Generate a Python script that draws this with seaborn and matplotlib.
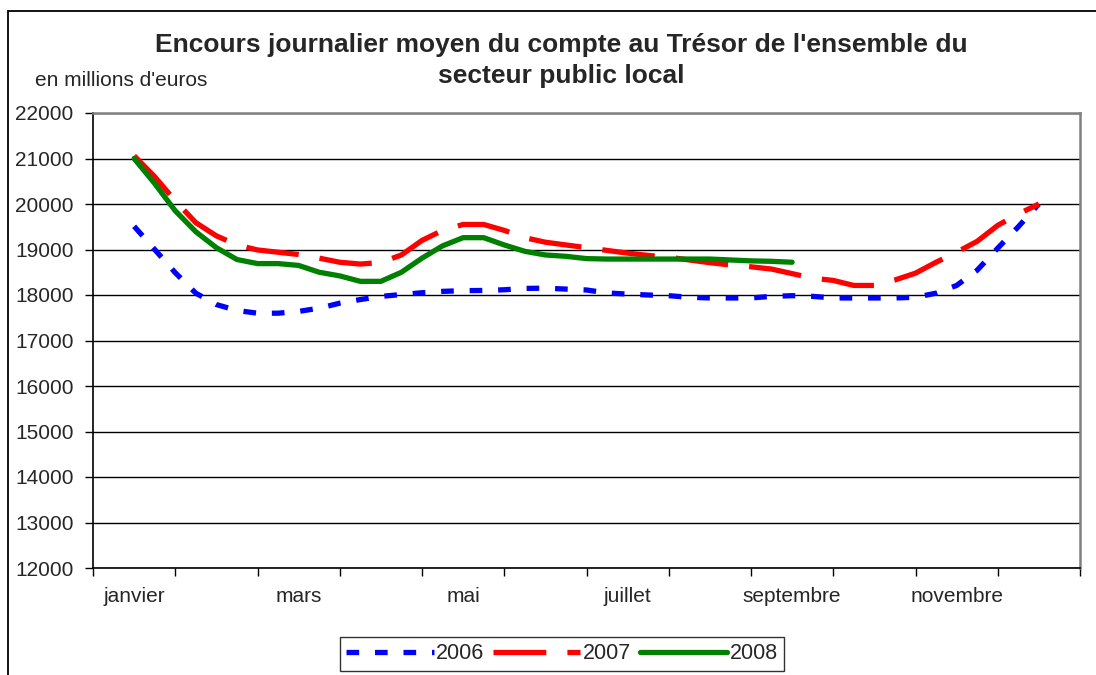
import numpy as np
import pandas as pd
import matplotlib
matplotlib.use("Agg")
import matplotlib.pyplot as plt
from matplotlib.patches import Rectangle
import seaborn as sns

# ---- data (weekly points, 4 per month, starting mid-January) ----
y2006 = [19510, 19000, 18490, 18040, 17790, 17660, 17600, 17600, 17640, 17710, 17820,
         17900, 17970, 18010, 18050, 18080, 18095, 18100, 18115, 18145, 18150, 18130, 18110,
         18045, 18020, 18000, 17985, 17950, 17935, 17935, 17935, 17970, 17985, 17970, 17935,
         17935, 17935, 17935, 17950, 18040, 18210, 18545, 19030, 19500, 20000]
y2007 = [21060, 20600, 20070, 19590, 19300, 19100, 18990, 18940, 18890, 18810, 18720,
         18680, 18715, 18880, 19200, 19420, 19550, 19550, 19420, 19260, 19160, 19100, 19040,
         18980, 18920, 18870, 18830, 18770, 18710, 18660, 18620, 18570, 18470, 18370, 18320,
         18210, 18210, 18330, 18480, 18720, 18940, 19180, 19530, 19780, 20000]
y2008 = [21000, 20450, 19850, 19390, 19040, 18780, 18690, 18690, 18650, 18500, 18420,
         18300, 18300, 18500, 18810, 19080, 19260, 19260, 19100, 18960, 18880, 18850, 18800,
         18790, 18790, 18790, 18790, 18790, 18790, 18770, 18750, 18740, 18720]
years = ["2006", "2007", "2008"]
series = [y2006, y2007, y2008]
month_labels = ["janvier", "mars", "mai", "juillet", "septembre", "novembre"]
y_ticks = list(range(12000, 22001, 1000))
title_lines = ["Encours journalier moyen du compte au Trésor de l'ensemble du",
               "secteur public local"]
unit_label = "en millions d'euros"

rows = []
for yr, vals in zip(years, series):
    for i, v in enumerate(vals):
        rows.append({"semaine": i, "encours": v, "annee": yr})
df = pd.DataFrame(rows)

sns.set_style("white")
plt.rcParams["font.family"] = ["Liberation Sans", "DejaVu Sans"]

W, H = 1096, 675
fig = plt.figure(figsize=(W / 100, H / 100), dpi=100)
ax = fig.add_axes([93 / W, 1 - 568 / H, (1080 - 93) / W, (568 - 113) / H])

palette = {"2006": "#0000FF", "2007": "#FF0000", "2008": "#008000"}
dashes = {"2006": (2.4, 3.0), "2007": (10, 4.0), "2008": ""}
sns.lineplot(data=df, x="semaine", y="encours", hue="annee", style="annee",
             palette=palette, dashes=dashes, linewidth=3.8, legend=False, ax=ax,
             sort=False)
for ln in ax.get_lines():
    ln.set_solid_capstyle("round")
    ln.set_dash_capstyle("butt")

# axes: 12 monthly categories of 4 weekly points each
ax.set_xlim(-2, 46)
ax.set_ylim(12000, 22000)
ax.set_xticks(np.arange(-2, 46.1, 4))
ax.set_xticks(np.arange(0, 44, 8), minor=True)
ax.set_xticklabels([])
ax.set_xticklabels(month_labels, minor=True)
ax.tick_params(axis="x", which="major", direction="out", length=6, width=1, color="black", bottom=True)
ax.tick_params(axis="x", which="minor", length=0, pad=14, labelsize=15)
ax.set_yticks(y_ticks)
ax.set_yticklabels([str(t) for t in y_ticks])
ax.tick_params(axis="y", direction="out", length=6, width=1, color="black", left=True, pad=8, labelsize=15)
ax.yaxis.grid(True, color="black", linewidth=1)
ax.xaxis.grid(False)
ax.set_xlabel("")
ax.set_ylabel("")
for side in ["top", "right"]:
    ax.spines[side].set_color("#808080")
    ax.spines[side].set_linewidth(1.8)
for side in ["left", "bottom"]:
    ax.spines[side].set_color("black")
    ax.spines[side].set_linewidth(1.2)

# title and unit
for line, yc in zip(title_lines, [45, 76]):
    fig.text(561 / W, 1 - yc / H, line, ha="center", va="center", fontsize=19,
             fontweight="bold")
fig.text(35 / W, 1 - 80 / H, unit_label, ha="left", va="center", fontsize=15)

# legend
handles = ax.get_lines()[:3]
leg = fig.legend(handles, years, loc="upper left", bbox_to_anchor=(340 / W, 1 - 637 / H),
                 ncol=3, frameon=True, fancybox=False, edgecolor="black", fontsize=15.5,
                 handlelength=4.05, handletextpad=0.12, columnspacing=0.4,
                 borderaxespad=0, borderpad=0.3)
leg.get_frame().set_linewidth(1.0)

# chart-area border
fig.patches.append(Rectangle((8 / W, -0.1), 1.2, 1 - 11 / H + 0.1, transform=fig.transFigure,
                             fill=False, edgecolor="black", linewidth=1.3))

fig.savefig("out.png", dpi=100)
